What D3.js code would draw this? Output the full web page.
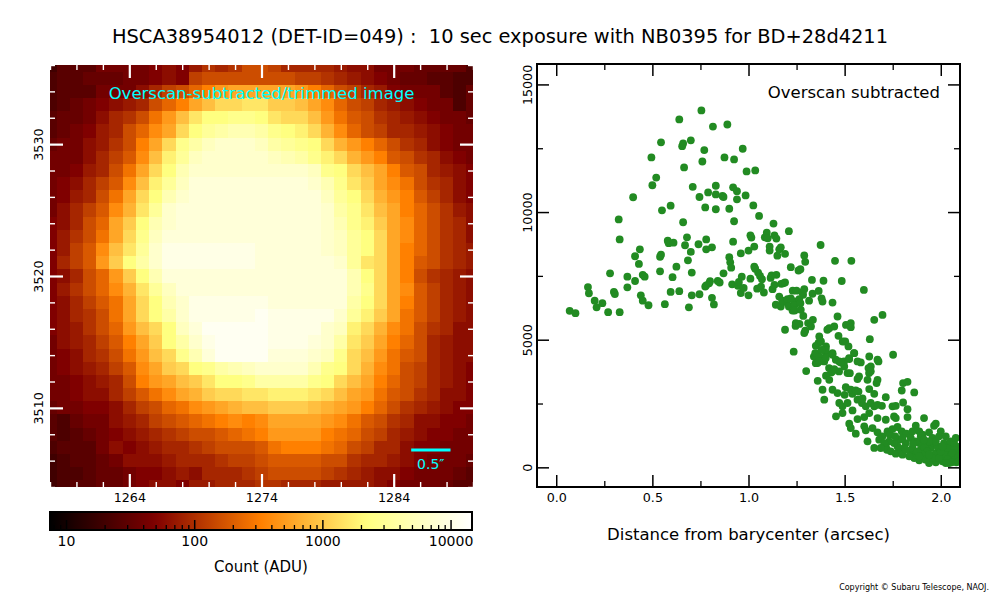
<!DOCTYPE html>
<html>
<head>
<meta charset="utf-8">
<script src="https://cdn.jsdelivr.net/npm/d3@7"></script>
<style>
  body { margin: 0; background: #fff; }
  text { font-family: "DejaVu Sans", sans-serif; }
</style>
</head>
<body>
<div id="chart"></div>
<script>
// detector pixels shown in the cutout (pixel centres)
const colFirst = 1258, colLast = 1290;
const rowTop = 3536, rowBottom = 3504;

// colour range of the image (ADU)
const countMin = 7.5, countMax = 14700;

// cutout, top row first: one char per pixel, brightness level
// level k -> position 0.1 + 0.025*k along the log colour range
const levelChars = "0123456789ABCDEFGHIJKLMNOPQRSTUVWXYZ";
const levelRows = [
  "1333 5555 6768 A9AC CB99 9987 7555 4444 2",
  "2334 4455 676B CCCC CCCB BA98 7654 4332 2",
  "2333 5557 9BCE GIJJ JJJI GECB 9865 5532 4",
  "2345 6789 CEGJ LNNO OMML JHEC B987 6552 4",
  "3445 79AC FILO QQRR QONN LIFD CA98 7655 4",
  "3456 89CE HJNQ STUU TRQP NKHE CB99 8765 5",
  "4557 8ACG JNRT VWWW VTSR QNKI GECA 9765 5",
  "5557 9BDH LPSV WWWW WVUT RPNK IGDC A976 5",
  "5568 9CFJ NQUW WWWW WWWW VRQN LJGD C987 6",
  "5679 BDHL PSVX XXXX XXXX WURO MJHF CA97 6",
  "5689 CFJN QUWX XXXX XXXX XVSQ NKIG DB97 6",
  "579B DHKO SWXX XXXX XXXX XWTR OLJG ECA8 7",
  "679C EJMQ UWXX XXXX XXXX XWUR PMJH ECA9 7",
  "68AC FJNR VXXX XXXX XXXX XWVS QNJH ECA9 7",
  "68BD HLOS WYYY YYYY XXXX XWVS QNJG ECA9 8",
  "69BD IMQT WYYY YYYY XXXX XXWS ONJG DCA9 8",
  "679C EIMQ UXXX XXXX XXXX XXXU QNJG CA98 7",
  "68AC EHKO SVXX XXXX XXXX XXXU RNJH DB98 7",
  "679B DFJN QUWY YYYY YXXX XXXT QNJG DB98 7",
  "679A CFJN QTWY YYYY ZYYY YYWS PMJF DB98 7",
  "678A CEIL NQVX ZZZZ ZYYY YWVP NKHF CA97 7",
  "5789 BDGJ MQTW YZZZ ZYYY XWTO MJGE C987 7",
  "5679 ACFI LNRU XZZZ ZXXX WVRN LIFD C987 7",
  "5678 9BDH JMNQ RTUV WWWW URQN KHFC B987 6",
  "5567 89CG IJLM OQQR TTTT RQNL JGEC B987 6",
  "5567 79BD FHJK MNNO OPPP ONLJ IFDC A977 6",
  "4556 679B CEFH IJKL LMMM LKJI GECA 9876 6",
  "3245 5789 BCDE FGHG HJJJ JIHF DCA9 7766 5",
  "3234 5678 9ABC CDEF GIII IGFE CB98 7665 5",
  "2333 5767 899A BCCC DFGG GFEC B997 6655 5",
  "1233 4577 7899 9ABB CDDD DCCA 9987 6555 4",
  "1223 4456 6787 999A BCCC CBA9 8776 5554 3",
  "1233 4456 7768 8999 AA99 9888 8765 5543 3"
];

// radial profile: [distance (arcsec), count (ADU)]
const profileCore = [
  [0.07,6130],[0.10,6040],[0.165,7060],[0.17,6820],[0.20,6530],[0.21,6270],[0.24,6430],[0.27,6080],
  [0.28,7600],[0.30,6870],[0.305,6790],[0.325,9710],[0.33,8930],[0.33,6080],[0.37,7470],[0.37,7050],
  [0.40,10580],[0.41,7300],[0.41,8270],[0.43,7970],[0.435,8540],[0.44,6740],[0.45,6530],[0.45,7540],
  [0.46,7470],[0.48,6350],[0.495,12140],[0.50,11050],[0.52,11350],[0.54,7680],[0.54,8250],[0.545,12730],
  [0.545,8330],[0.55,10070],[0.565,6390],[0.58,8880],[0.585,8780],[0.595,6870],[0.595,10250],[0.605,7450],
  [0.61,8800],[0.625,7860],[0.64,6900],[0.64,13630],[0.655,12580],[0.66,9600],[0.66,12690],[0.665,11750],
  [0.67,8700],[0.68,9010],[0.685,8110],[0.69,6270],[0.70,12810],[0.70,8440],[0.705,7630],[0.705,6740],
  [0.71,10990],[0.74,8740],[0.745,10590],[0.745,6780],[0.755,13980],[0.76,11980],[0.77,12430],[0.775,10180],
  [0.775,7080],[0.78,8930],[0.78,8540],[0.78,7130],[0.79,10770],[0.795,7210],[0.80,7290],[0.81,8620],
  [0.81,6640],[0.815,13350],[0.82,6380],[0.83,11030],[0.83,10110],[0.83,10690],[0.84,7300],[0.85,7240],
  [0.865,10630],[0.87,10590],[0.87,7600],[0.875,12140],[0.89,13430],[0.90,10130],[0.90,8230],[0.905,8030],
  [0.91,7820],[0.915,7170],[0.92,8840],[0.92,10970],[0.925,9640],[0.925,12060],[0.94,10500],[0.94,10820],
  [0.945,7110],[0.95,7260],[0.96,6830],[0.965,7470],[0.96,8380],[0.97,12480],[0.975,7030],[0.985,10650],
  [0.99,11590],[1.00,6740],[1.00,8490],[1.01,7390],[1.01,9090],[1.015,9000],[1.025,10260],[1.03,8650],
  [1.03,7860],[1.035,11630],[1.035,7780],[1.045,7000],[1.05,7630],[1.055,9850],[1.06,7500],[1.065,7080],
  [1.07,7370],[1.08,6850],[1.085,9010],[1.095,9190]
];
const profileShoulder = [
  [1.10,8970],[1.11,8650],[1.11,8490],[1.115,7420],[1.12,7520],[1.125,6980],[1.13,9550],[1.135,9090],
  [1.135,7150],[1.142,6370],[1.145,8960],[1.145,7540],[1.15,8290],[1.16,8540],[1.16,6690],[1.168,8620],
  [1.168,6300],[1.17,7190],[1.175,6530],[1.18,7210],[1.19,7240],[1.19,8360],[1.19,5390],[1.20,6460],
  [1.203,6590],[1.21,6300],[1.21,9250],[1.22,6620],[1.22,7840],[1.229,6140],[1.23,6920],[1.235,4530],
  [1.238,6500],[1.24,6360],[1.24,6140],[1.245,5540],[1.246,5650],[1.25,6920],[1.26,7710],[1.264,6590],
  [1.265,5620],[1.27,7760],[1.27,6430],[1.272,6170],[1.28,6860],[1.284,6760],[1.285,5930],[1.29,8300],
  [1.29,6980],[1.29,5260],[1.295,5350],[1.295,8050],[1.30,3770],[1.31,5650],[1.315,6530],[1.325,5520],
  [1.33,7340],[1.333,6800],[1.335,5780],[1.34,4340],[1.347,4475],[1.35,4760],[1.35,4080],[1.36,3390],
  [1.364,4870],[1.365,6910],[1.368,4345],[1.359,4083]
];
const profileWing = [
  [1.375,8710],[1.38,6620],[1.39,7310],[1.45,8090],[1.485,7300],[1.535,8090],[1.60,6950],
  [1.385,6495],[1.437,6455],[1.463,5908],[1.42,5450],[1.446,5517],[1.507,5580],[1.532,5650],[1.532,5490],
  [1.654,5780],[1.697,5970],[1.368,5125],[1.377,4930],[1.468,5150],[1.503,4930],[1.52,4735],[1.631,5020],
  [1.403,4735],[1.437,4473],[1.403,4473],[1.368,4150],[1.394,4150],[1.472,4150],[1.498,3950],[1.524,4240],
  [1.55,4473],[1.584,4110],[1.628,4343],[1.676,4150],[1.752,4410],[1.471,3757],
  [1.402,4605],[1.402,4280],[1.437,4410],[1.454,4215],[1.497,4150],[1.523,4280],[1.549,4475],[1.567,4150],
  [1.671,4215],[1.636,3953],[1.419,3890],[1.515,3692],[1.575,3560],[1.627,3692],
  [1.38,4600],[1.41,5390],[1.43,3720],[1.48,4110],[1.49,4930],[1.50,2840],[1.54,2880],[1.59,2520],
  [1.446,3850],[1.437,3760],[1.403,3590],[1.42,3430],[1.527,3690],[1.567,3460],[1.624,3890],[1.636,3760],
  [1.619,3430],[1.671,3430],[1.666,3300],[1.804,3300],[1.827,3350],
  [1.385,3040],[1.437,3040],[1.463,2910],[1.506,3140],[1.532,3040],[1.558,3010],[1.572,2970],[1.628,3065],
  [1.654,2880],[1.797,3010],[1.862,2935],
  [1.394,2650],[1.472,2520],[1.489,2390],[1.515,2520],[1.567,2650],[1.593,2700],[1.61,2390],[1.636,2520],
  [1.654,2390],[1.671,2450],[1.694,2410],[1.714,2750],[1.749,2390],[1.766,2410],[1.804,2540],[1.827,2280],
  [1.455,2000],[1.489,2125],[1.541,2230],[1.567,1890],[1.602,1970],[1.628,2125],[1.671,1930],[1.714,1865],
  [1.757,1995],[1.766,1930],[1.827,1970],[1.913,1930],
  [1.524,1710],[1.532,1540],[1.558,1320],[1.602,1605],[1.61,1450],
  [1.645,1540],[1.671,1370],[1.697,1214],[1.723,1410],[1.735,1280],[1.749,1500],[1.775,1580],[1.797,1410],
  [1.822,1320],[1.853,1410],[1.87,1630],[1.888,1410],[1.905,1280],[1.939,1370],[1.965,1630],[1.974,1710],
  [2.0,1410],[2.026,1214]
];
const profileTail = [
  [1.619,1020],[1.654,760],[1.68,1083],[1.714,820],[1.72,690],[1.74,627],[1.766,535],[1.792,690],[1.818,950],
  [1.844,535],[1.87,500],[1.896,690],[1.922,430],[1.948,757],[1.974,560],[2.0,430],[2.026,627],
  [2.052,757],[2.078,560],[2.069,300],[2.043,170],[2.009,235],[1.974,196],[1.939,170],[1.888,275],
  [1.862,366],[1.836,430],[1.896,1214],[1.922,950],[1.957,1150],[2.017,950],[2.043,820],[2.081,820],
  [1.784,1083],[1.81,757],[1.888,950],[1.913,757],[1.965,950],[1.991,757],[2.017,495],[2.052,430],
  [2.078,365],[2.087,627],[1.853,757],[1.87,1020],[1.931,627],[1.983,820],[2.035,325],[2.057,196],
  [2.081,196],[1.957,365],[1.905,495],[1.991,365],[2.026,170],[1.922,300],[1.879,627],[1.801,495],
  [1.775,820],[1.818,690],[1.757,950],[1.732,1020],[1.706,950],[1.688,757],[1.763,1214],[1.801,1150],
  [1.844,1150],[1.856,925],[1.888,430],[1.939,495],[2.0,627],[2.035,757],[2.069,757],[2.061,560],
  [2.092,430],[2.092,235],[2.009,820],[1.974,1020],[1.939,1020],[1.913,1083],[1.991,1214],[2.052,1020],
  [2.069,950],[2.078,1150]
];

const imgXMajor = [1264, 1274, 1284];
const imgYMajor = [3510, 3520, 3530];
const cbMajor = [10, 100, 1000, 10000];
const profXMajor = [0, 0.5, 1.0, 1.5, 2.0];
const profXMinor = [0.25, 0.75, 1.25, 1.75];
const profYMajor = [0, 5000, 10000, 15000];
const profYMinor = [2500, 7500, 12500];

const arcsecPerPixel = 0.168;

// ---------------------------------------------------------------
const svg = d3.select("#chart").append("svg").attr("width", 1000).attr("height", 600);

const afmhot = t => d3.rgb(
  255 * Math.max(0, Math.min(1, 2 * t)),
  255 * Math.max(0, Math.min(1, 2 * t - 0.5)),
  255 * Math.max(0, Math.min(1, 2 * t - 1))).toString();

const lo = Math.log10(countMin), hi = Math.log10(countMax);
const pixelCounts = levelRows.map(r => r.replace(/\s/g, "").split("")
  .map(ch => Math.pow(10, lo + (0.1 + 0.025 * levelChars.indexOf(ch)) * (hi - lo))));

const norm = d3.scaleLog().domain([countMin, countMax]).range([0, 1]).clamp(true);

svg.append("text").attr("x", 500).attr("y", 43).attr("text-anchor", "middle")
  .style("font-size", "19.4px").style("white-space", "pre")
  .text("HSCA38954012 (DET-ID=049) :  10 sec exposure with NB0395 for BD+28d4211");

// ---------------- image panel ----------------
const img = {left: 50, right: 473, top: 65, bottom: 487};
const xPix = d3.scaleLinear().domain([colFirst, colLast]).range([img.left, img.right]);
const yPix = d3.scaleLinear().domain([rowBottom, rowTop]).range([img.bottom, img.top]);

svg.append("clipPath").attr("id", "imgClip").append("rect")
  .attr("x", img.left).attr("y", img.top)
  .attr("width", img.right - img.left).attr("height", img.bottom - img.top);

const cells = pixelCounts.flatMap((row, j) => row.map((v, i) => ({col: colFirst + i, row: rowTop - j, v})));
const cw = xPix(colFirst + 1) - xPix(colFirst), ch = yPix(rowBottom) - yPix(rowBottom + 1);

const gImg = svg.append("g");
gImg.append("g").attr("clip-path", "url(#imgClip)")
  .selectAll("rect").data(cells).join("rect")
  .attr("x", d => xPix(d.col - 0.5)).attr("y", d => yPix(d.row + 0.5))
  .attr("width", cw + 0.4).attr("height", ch + 0.4)
  .attr("fill", d => afmhot(norm(d.v)))
  .attr("shape-rendering", "crispEdges");

const imgMinorX = d3.range(colFirst, colLast + 1, 2).filter(v => !imgXMajor.includes(v));
const imgMinorY = d3.range(rowBottom, rowTop + 1, 2).filter(v => !imgYMajor.includes(v));

function styleTicks(g, color, width) {
  g.select(".domain").remove();
  g.selectAll(".tick line").attr("stroke", color).attr("stroke-width", width);
  g.selectAll(".tick text").attr("fill", "#000");
}

function frameTicks(root, xs, ys, box, xMaj, xMin, yMaj, yMin, majLen, minLen, color, wMaj, wMin) {
  const sides = [
    [d3.axisBottom, xs, `translate(0,${box.bottom})`],
    [d3.axisTop, xs, `translate(0,${box.top})`],
    [d3.axisLeft, ys, `translate(${box.left},0)`],
    [d3.axisRight, ys, `translate(${box.right},0)`]
  ];
  sides.forEach(([ax, s, tr], k) => {
    const isX = k < 2;
    root.append("g").attr("transform", tr)
      .call(ax(s).tickValues(isX ? xMin : yMin).tickSize(-minLen).tickFormat(""))
      .call(g => styleTicks(g, color, wMin));
    root.append("g").attr("transform", tr)
      .call(ax(s).tickValues(isX ? xMaj : yMaj).tickSize(-majLen).tickFormat(""))
      .call(g => styleTicks(g, color, wMaj));
  });
}

frameTicks(gImg, xPix, yPix, img, imgXMajor, imgMinorX, imgYMajor, imgMinorY, 13, 5, "#fff", 2.2, 1.4);

// tick labels of the image
gImg.append("g").attr("transform", `translate(0,${img.bottom})`)
  .call(d3.axisBottom(xPix).tickValues(imgXMajor).tickSize(0).tickPadding(6).tickFormat(d3.format("d")))
  .call(g => { g.select(".domain").remove(); g.selectAll("text").style("font-size", "12.7px"); });
gImg.append("g").attr("transform", `translate(${img.left},0)`)
  .call(d3.axisLeft(yPix).tickValues(imgYMajor).tickSize(0).tickFormat(d3.format("d")))
  .call(g => {
    g.select(".domain").remove();
    g.selectAll("text").style("font-size", "12.7px").attr("text-anchor", "middle")
      .attr("x", 0).attr("dy", 0).attr("transform", "translate(-7.5,0) rotate(-90)");
  });

gImg.append("text").attr("x", 261.5).attr("y", 99).attr("text-anchor", "middle")
  .attr("fill", "cyan").style("font-size", "16.5px").text("Overscan-subtracted/trimmed image");

// 0.5 arcsec scale bar
const barEnd = 1288.3, barLen = 0.5 / arcsecPerPixel, barRow = 3506.8;
gImg.append("line")
  .attr("x1", xPix(barEnd - barLen)).attr("x2", xPix(barEnd))
  .attr("y1", yPix(barRow)).attr("y2", yPix(barRow))
  .attr("stroke", "cyan").attr("stroke-width", 3);
gImg.append("text").attr("x", xPix(barEnd - barLen / 2)).attr("y", yPix(barRow) + 18.5)
  .attr("text-anchor", "middle").attr("fill", "cyan").style("font-size", "14px").text("0.5\u2033");

// ---------------- colour bar ----------------
const cb = {left: 50, right: 472, top: 512, bottom: 530};
const cbScale = d3.scaleLog().domain([countMin, countMax]).range([cb.left, cb.right]);
const grad = svg.append("defs").append("linearGradient").attr("id", "cbGrad");
d3.range(0, 1.0001, 0.02).forEach(t =>
  grad.append("stop").attr("offset", t).attr("stop-color", afmhot(t)));
svg.append("rect").attr("x", cb.left).attr("y", cb.top)
  .attr("width", cb.right - cb.left).attr("height", cb.bottom - cb.top)
  .attr("fill", "url(#cbGrad)");

const cbMinor = [];
[1, 10, 100, 1000].forEach(dec => d3.range(2, 10).forEach(m => {
  const v = dec * m;
  if (v >= countMin && v <= countMax) cbMinor.push(v);
}));
svg.append("g").attr("transform", `translate(0,${cb.bottom})`)
  .call(d3.axisBottom(cbScale).tickValues(cbMinor).tickSize(-5).tickFormat(""))
  .call(g => styleTicks(g, "#000", 1.3));
svg.append("g").attr("transform", `translate(0,${cb.bottom})`)
  .call(d3.axisBottom(cbScale).tickValues(cbMajor).tickSize(-10).tickPadding(6).tickFormat(d3.format("d")))
  .call(g => { styleTicks(g, "#000", 1.5); g.selectAll("text").style("font-size", "14px"); });
svg.append("rect").attr("x", cb.left).attr("y", cb.top)
  .attr("width", cb.right - cb.left).attr("height", cb.bottom - cb.top)
  .attr("fill", "none").attr("stroke", "#000").attr("stroke-width", 2);
svg.append("text").attr("x", (cb.left + cb.right) / 2).attr("y", 572)
  .attr("text-anchor", "middle").style("font-size", "15px").text("Count (ADU)");

// ---------------- radial profile ----------------
const sc = {left: 537, right: 960, top: 64, bottom: 487};
const xDist = d3.scaleLinear().domain([-0.1, 2.1]).range([sc.left, sc.right]);
const yCount = d3.scaleLinear().domain([-770, 15800]).range([sc.bottom, sc.top]);
const gSc = svg.append("g");

svg.append("clipPath").attr("id", "scClip").append("rect")
  .attr("x", sc.left).attr("y", sc.top)
  .attr("width", sc.right - sc.left).attr("height", sc.bottom - sc.top);

const profile = [...profileCore, ...profileShoulder, ...profileWing, ...profileTail];
gSc.append("g").attr("clip-path", "url(#scClip)")
  .selectAll("circle").data(profile).join("circle")
  .attr("cx", d => xDist(d[0])).attr("cy", d => yCount(d[1]))
  .attr("r", 3.9).attr("fill", "#228b22");

frameTicks(gSc, xDist, yCount, sc, profXMajor, profXMinor, profYMajor, profYMinor, 12, 6, "#000", 1.5, 1.3);

gSc.append("g").attr("transform", `translate(0,${sc.bottom})`)
  .call(d3.axisBottom(xDist).tickValues(profXMajor).tickSize(0).tickPadding(6).tickFormat(d3.format(".1f")))
  .call(g => { g.select(".domain").remove(); g.selectAll("text").style("font-size", "12.7px"); });
gSc.append("g").attr("transform", `translate(${sc.left},0)`)
  .call(d3.axisLeft(yCount).tickValues(profYMajor).tickSize(0).tickFormat(d3.format("d")))
  .call(g => {
    g.select(".domain").remove();
    g.selectAll("text").style("font-size", "12.7px").attr("text-anchor", "middle")
      .attr("x", 0).attr("dy", 0).attr("transform", "translate(-5.5,0) rotate(-90)");
  });

gSc.append("rect").attr("x", sc.left).attr("y", sc.top)
  .attr("width", sc.right - sc.left).attr("height", sc.bottom - sc.top)
  .attr("fill", "none").attr("stroke", "#000").attr("stroke-width", 2);

gSc.append("text").attr("x", 940).attr("y", 98).attr("text-anchor", "end")
  .style("font-size", "16.5px").text("Overscan subtracted");
gSc.append("text").attr("x", (sc.left + sc.right) / 2).attr("y", 540)
  .attr("text-anchor", "middle").style("font-size", "16.5px").text("Distance from barycenter (arcsec)");

svg.append("text").attr("x", 989).attr("y", 590).attr("text-anchor", "end")
  .style("font-size", "8px").text("Copyright \u00a9 Subaru Telescope, NAOJ.");
</script>
</body>
</html>
